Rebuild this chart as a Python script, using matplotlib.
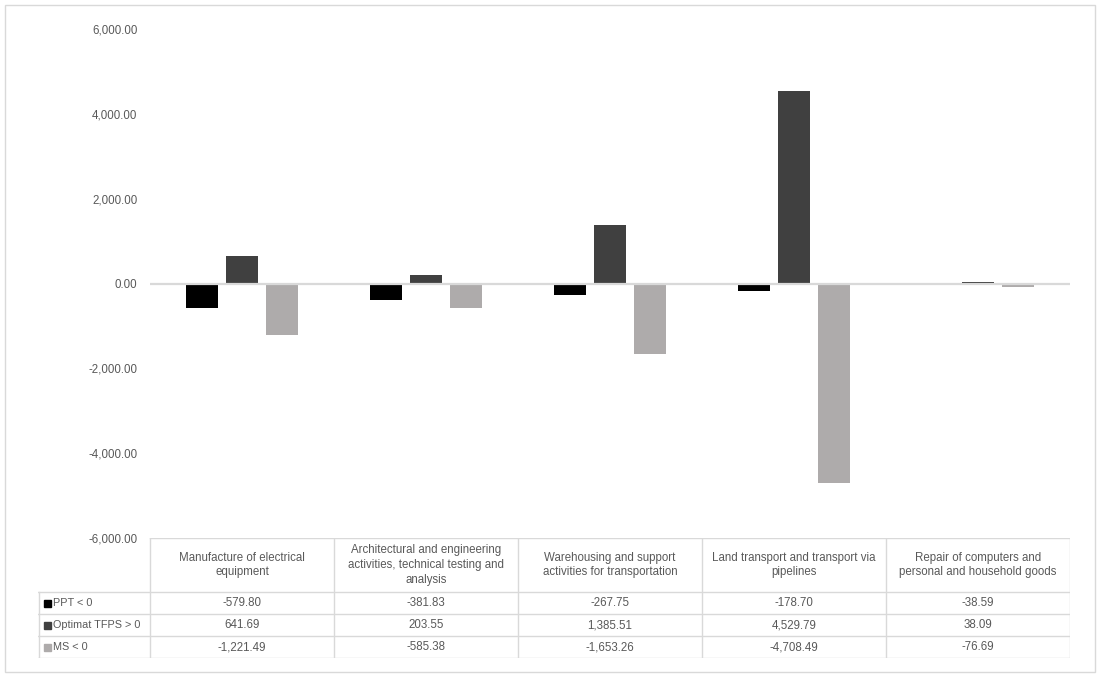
import matplotlib.pyplot as plt
from matplotlib.patches import Rectangle
import numpy as np

plt.rcParams['font.family'] = ['Liberation Sans', 'DejaVu Sans']

# data
categories = [
    "Manufacture of electrical\nequipment",
    "Architectural and engineering\nactivities, technical testing and\nanalysis",
    "Warehousing and support\nactivities for transportation",
    "Land transport and transport via\npipelines",
    "Repair of computers and\npersonal and household goods",
]
series_names = ["PPT < 0", "Optimat TFPS > 0", "MS < 0"]
ppt = [-579.80, -381.83, -267.75, -178.70, -38.59]
optimat = [641.69, 203.55, 1385.51, 4529.79, 38.09]
ms = [-1221.49, -585.38, -1653.26, -4708.49, -76.69]
yticks = [-6000, -4000, -2000, 0, 2000, 4000, 6000]

colors = ["#000000", "#404040", "#aeabab"]
text_col = "#595959"
grid_col = "#d9d9d9"
fs = 8.3

W, H = 1100, 677
fig = plt.figure(figsize=(W / 100, H / 100), dpi=100)

# plot area (pixel layout of the reference)
left, right, top, bottom = 150, 1070, 29, 538
ax = fig.add_axes([left / W, 1 - bottom / H, (right - left) / W, (bottom - top) / H])

x = np.arange(len(categories))
width = 0.174
offsets = [-0.22, 0.0, 0.22]
for vals, off, c, name in zip([ppt, optimat, ms], offsets, colors, series_names):
    ax.bar(x + off, vals, width, color=c, label=name, zorder=2)

ax.axhline(0, color=grid_col, lw=1.6, zorder=3)
ax.set_xlim(-0.5, len(categories) - 0.5)
ax.set_ylim(-6000, 6000)
ax.set_yticks(yticks)
ax.set_yticklabels([f"{v:,.2f}" for v in yticks], color=text_col, fontsize=fs)
ax.tick_params(axis='y', length=0, pad=9)
ax.set_xticks([])
for s in ax.spines.values():
    s.set_visible(False)

# data table underneath
tl, tr, ttop, hdr_bot, row_h = 38, right, bottom, 592, 22
n_rows = len(series_names)
tbot = hdr_bot + n_rows * row_h
tax = fig.add_axes([tl / W, 1 - tbot / H, (tr - tl) / W, (tbot - ttop) / H])
tax.set_xlim(tl, tr)
tax.set_ylim(tbot, ttop)
tax.axis('off')

col_edges = np.linspace(left, right, len(categories) + 1)
lc = dict(color=grid_col, lw=1)
tax.plot([left, right], [ttop, ttop], **lc)
for i in range(n_rows + 1):
    y = hdr_bot + i * row_h
    tax.plot([tl, tr], [y, y], **lc)
for xe in col_edges:
    tax.plot([xe, xe], [ttop, tbot], **lc)
tax.plot([tl + 0.5, tl + 0.5], [hdr_bot, tbot], **lc)

for j, cat in enumerate(categories):
    xc = (col_edges[j] + col_edges[j + 1]) / 2
    tax.text(xc, (ttop + hdr_bot) / 2, cat, ha='center', va='center',
             fontsize=fs, color=text_col, linespacing=1.3)

for i, (name, vals, c) in enumerate(zip(series_names, [ppt, optimat, ms], colors)):
    yc = hdr_bot + (i + 0.5) * row_h
    tax.add_patch(Rectangle((tl + 6, yc - 3.5), 7, 7, color=c))
    tax.text(tl + 15, yc, name, ha='left', va='center', fontsize=7.8, color=text_col)
    for j, v in enumerate(vals):
        xc = (col_edges[j] + col_edges[j + 1]) / 2
        tax.text(xc, yc, f"{v:,.2f}", ha='center', va='center', fontsize=fs, color=text_col)

# chart border
fig.add_artist(Rectangle((5 / W, 5 / H), 1090 / W, 667 / H, transform=fig.transFigure,
                         fill=False, ec=grid_col, lw=1))

fig.savefig("out.png", dpi=100, facecolor='white')
